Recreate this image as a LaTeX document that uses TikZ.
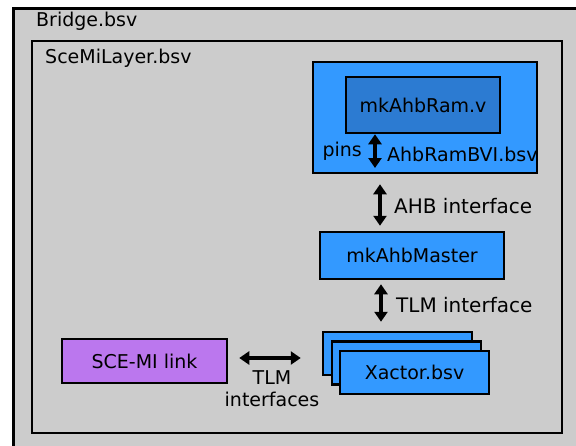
\documentclass[tikz,border=0pt]{standalone}
\usepackage{fontspec}
\setmainfont{DejaVu Sans}
\usetikzlibrary{arrows.meta}
\definecolor{bggray}{HTML}{CCCCCC}
\definecolor{modblue}{HTML}{3399FF}
\definecolor{ramblue}{HTML}{2C7BD2}
\definecolor{linkpurple}{HTML}{BB77EE}
\begin{document}
\begin{tikzpicture}[x=1pt,y=-1pt,
  box/.style={draw=black,line width=2.5pt,fill=modblue,inner sep=0pt,
    font=\fontsize{19}{22}\selectfont},
  lbl/.style={inner sep=0pt,font=\fontsize{19}{22}\selectfont},
  biglbl/.style={inner sep=0pt,font=\fontsize{20}{23}\selectfont},
  biarrow/.style={{Triangle[width=13pt,length=10pt]}-{Triangle[width=13pt,length=10pt]},
    line width=4pt}]
\useasboundingbox (0,0) rectangle (576,445);
\fill[white] (0,0) rectangle (576,445);
% outer container, running off the page on the right and bottom
\begin{scope}
  \clip (0,0) rectangle (576,445);
  \draw[line width=3pt,fill=bggray] (13,8) rectangle (600,470);
\end{scope}
\node[lbl,anchor=west] (bridge) at (36,21) {Bridge.bsv};
% SceMi layer
\draw[line width=2.5pt] (32,41) rectangle (562,433);
\node[lbl,anchor=west] (layer) at (45,58) {SceMiLayer.bsv};

% AHB RAM wrapper
\node[box,minimum width=224pt,minimum height=111pt] (bvi) at (425,117.5) {};
\node[box,fill=ramblue,minimum width=154pt,minimum height=56pt] (ram) at (423,105) {mkAhbRam.v};
\coordinate (pinsend) at (375,168);
\draw[biarrow] ([xshift=-48pt]ram.south) -- (pinsend);
\node[lbl,anchor=east] (pins) at (362,151) {pins};
\node[lbl,anchor=west] (bvilabel) at (387,154) {AhbRamBVI.bsv};

% AHB master
\node[box,minimum width=184pt,minimum height=47pt] (master) at (412,255.5) {mkAhbMaster};
\coordinate (ahbx) at (380,0);
\draw[biarrow,shorten <=10pt,shorten >=5pt] (bvi.south -| ahbx) -- (master.north -| ahbx);
\node[biglbl,anchor=west] (ahblabel) at (394,206) {AHB interface};

% stacked transactors
\node[box,minimum width=149pt,minimum height=43pt] (x1) at (397.5,353.5) {};
\node[box,minimum width=149pt,minimum height=43pt] (x2) at (406.5,363) {};
\node[box,minimum width=149pt,minimum height=43pt] (x3) at (414.5,372.5) {Xactor.bsv};
\coordinate (tlmx) at (381,0);
\draw[biarrow,shorten <=4pt,shorten >=9pt] (master.south -| tlmx) -- (x1.north -| tlmx);
\node[biglbl,anchor=west] (tlmlabel) at (396,305) {TLM interface};

% SCE-MI link
\node[box,fill=linkpurple,minimum width=165pt,minimum height=44pt] (sce) at (144.5,361) {SCE-MI link};
\draw[biarrow,shorten <=11pt,shorten >=21pt] ([yshift=3pt]sce.east) -- ([yshift=3pt]sce.east -| x1.west);
\node[lbl,align=center] (links) at (272,389) {TLM\\interfaces};
\end{tikzpicture}
\end{document}
